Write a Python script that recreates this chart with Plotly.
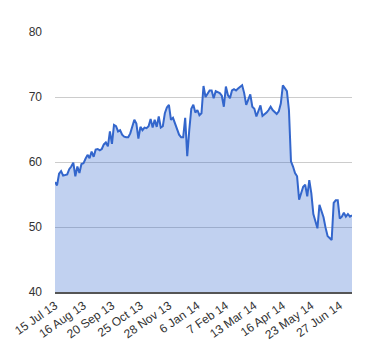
import plotly.graph_objects as go

tick_labels = ["15 Jul 13", "16 Aug 13", "20 Sep 13", "25 Oct 13", "28 Nov 13",
               "6 Jan 14", "7 Feb 14", "13 Mar 14", "16 Apr 14", "23 May 14", "27 Jun 14"]
tick_step = 14

values = [
    56.9, 56.4, 58.2, 58.6, 57.9, 58.0, 58.1, 58.9, 59.3, 59.9,
    57.8, 59.3, 58.3, 59.7, 59.8, 60.5, 61.1, 60.6, 61.6, 60.8,
    61.9, 62.0, 61.8, 62.0, 62.7, 63.0, 62.4, 64.7, 62.8, 65.7,
    65.5, 64.7, 64.9, 64.2, 63.9, 63.8, 63.8, 64.4, 65.5, 66.5,
    65.9, 63.6, 65.4, 64.9, 65.3, 65.2, 65.5, 66.6, 65.3, 66.5,
    65.4, 67.0, 65.3, 65.5, 67.5, 68.4, 68.8, 66.5, 66.8, 66.0,
    65.2, 64.2, 63.8, 63.8, 66.8, 60.9, 64.9, 68.2, 68.8, 67.6,
    68.0, 67.2, 67.5, 71.7, 70.0, 70.5, 71.0, 71.0, 69.8, 70.9,
    70.8, 70.6, 70.2, 68.5, 71.6, 70.3, 69.8, 71.0, 71.2, 71.0,
    71.3, 71.5, 71.8, 70.6, 68.8, 69.6, 70.4, 68.5, 68.2, 67.0,
    67.9, 68.7, 67.1, 67.3, 67.6, 68.0, 68.5, 68.0, 67.7, 67.4,
    67.8, 69.0, 71.8, 71.4, 70.9, 68.0, 60.1, 59.3, 58.3, 57.8,
    54.2, 55.2, 56.2, 56.5, 54.7, 57.2, 55.2, 52.0, 51.0, 49.8,
    53.4, 52.6, 51.5, 49.9, 48.6, 48.3, 48.0, 53.7, 54.1, 54.1,
    51.3, 51.6, 52.2, 51.6, 52.0, 51.6, 51.8,
]

x = list(range(len(values)))
tickvals = [i * tick_step for i in range(len(tick_labels))]

fig = go.Figure()
fig.add_trace(go.Scatter(
    x=x, y=values, mode="lines",
    line=dict(color="#3366cc", width=2),
    fill="tozeroy", fillcolor="rgba(51,102,204,0.3)",
    hoverinfo="skip",
))

fig.update_layout(
    width=380, height=360,
    margin=dict(l=47, r=36, t=24, b=76),
    paper_bgcolor="white", plot_bgcolor="white",
    showlegend=False,
    font=dict(family="Liberation Sans, Arial, sans-serif", size=12, color="#333"),
    xaxis=dict(
        range=[0, len(values) - 1],
        tickmode="array", tickvals=tickvals, ticktext=tick_labels,
        tickangle=-35, showgrid=False, zeroline=False,
        showline=True, linecolor="#555", linewidth=2,
        ticks="", ticklen=0, automargin=False,
    ),
    yaxis=dict(
        range=[40, 80], tickmode="array", tickvals=[40, 50, 60, 70, 80],
        showgrid=True, gridcolor="#cccccc", gridwidth=1,
        zeroline=False, showline=False, ticks="",
        ticklabelstandoff=12, automargin=False,
    ),
)

fig.write_html("out.html")
